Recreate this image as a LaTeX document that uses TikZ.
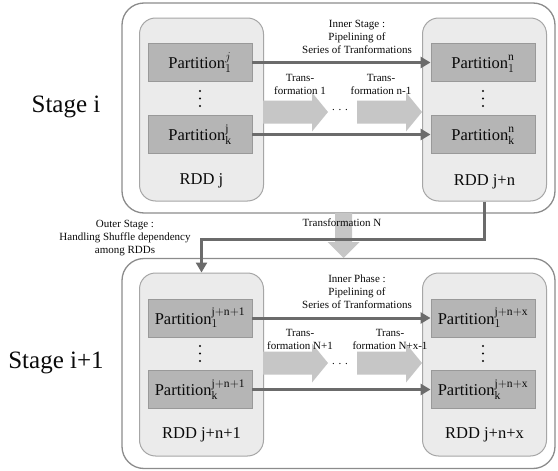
\documentclass[tikz,border=0pt]{standalone}
\usepackage{fontspec}
\setmainfont{Liberation Serif}
\usetikzlibrary{arrows.meta}
\definecolor{stageline}{HTML}{8C8C8C}
\definecolor{rddfill}{HTML}{EBEBEB}
\definecolor{rddline}{HTML}{A6A6A6}
\definecolor{partfill}{HTML}{B5B5B5}
\definecolor{partline}{HTML}{999999}
\definecolor{fatcol}{HTML}{C6C6C6}
\definecolor{pipecol}{HTML}{6B6B6B}
\definecolor{inkcol}{HTML}{0A0A0A}
\tikzset{
stagebox/.style={draw=stageline, line width=1.3pt, fill=white, rounded corners=22pt, minimum width=433pt, minimum height=210pt},
rddbox/.style={draw=rddline, line width=1pt, fill=rddfill, rounded corners=16pt, minimum width=124pt, minimum height=183pt},
partbox/.style={draw=partline, line width=0.9pt, fill=partfill, minimum width=104pt, minimum height=38pt, inner sep=0pt, text=inkcol, font=\rmfamily\fontsize{16.5}{18}\selectfont},
biglabel/.style={text=inkcol, font=\rmfamily\fontsize{16.5}{18}\selectfont},
stagelabel/.style={text=inkcol, font=\rmfamily\fontsize{25}{28}\selectfont},
note/.style={text=inkcol, align=center, inner sep=0pt, font=\rmfamily\fontsize{11}{13}\selectfont},
pipe/.style={draw=pipecol, line width=3pt, -{Triangle[length=10pt,width=11pt]}},
fatarr/.pic={\fill[fatcol] (0,-11.5) -- (49,-11.5) -- (49,-19.5) -- (65,0) -- (49,19.5) -- (49,11.5) -- (0,11.5) -- cycle;}
}
\begin{document}
\begin{tikzpicture}[x=1pt, y=-1pt]
\useasboundingbox (0,0) rectangle (558,471);
\node[stagebox] (stg0) at (338.5,108){};
\node[stagebox] (stg1) at (338.5,363.5){};
\fill[fatcol] (335,213) -- (352,213) -- (352,242) -- (359.5,242) -- (343.5,258) -- (327.5,242) -- (335,242) -- cycle;
\node[note] (trN) at (342,223){Transformation N};
\node[stagelabel] (lbl0) at (66,107){Stage i};
\node[stagelabel] (lbl1) at (56,363){Stage i+1};
\node[rddbox] (rdd0) at (201.5,109.5){};
\node[rddbox] (rdd1) at (484.5,109.5){};
\node[rddbox] (rdd2) at (201.5,364.5){};
\node[rddbox] (rdd3) at (484.5,364.5){};
\node[biglabel] (rddl0) at (201.5,181){RDD j};
\node[biglabel] (rddl1) at (484.5,182){RDD j+n};
\node[biglabel] (rddl2) at (201.5,435){RDD j+n+1};
\node[biglabel] (rddl3) at (484.5,435){RDD j+n+x};
\node[partbox] (prt0) at (200,62.5){Partition$_{1}^{j}$};
\node[partbox] (prt1) at (200,134.5){Partition$_{\mathrm{k}}^{\mathrm{j}}$};
\node[partbox] (prt2) at (483,62.5){Partition$_{1}^{\mathrm{n}\vphantom{j}}$};
\node[partbox] (prt3) at (483,134.5){Partition$_{\mathrm{k}}^{\mathrm{n}\vphantom{j}}$};
\node[partbox] (prt4) at (200,318){Partition$_{1}^{\mathrm{j+n+1}}$};
\node[partbox] (prt5) at (200,389.5){Partition$_{\mathrm{k}}^{\mathrm{j+n+1}}$};
\node[partbox] (prt6) at (483,318){Partition$_{1}^{\mathrm{j+n+x}}$};
\node[partbox] (prt7) at (483,389.5){Partition$_{\mathrm{k}}^{\mathrm{j+n+x}}$};
\foreach \x in {200,483}
  \foreach \y in {91,98.5,106,346,353.5,361}
    \fill[inkcol] (\x,\y) circle (1.1pt);
\pic (fat0) at (263,112) {fatarr};
\pic (fat1) at (357,112) {fatarr};
\pic (fat2) at (263,363) {fatarr};
\pic (fat3) at (357,363) {fatarr};
\node[note] (dots0) at (340,110){.\,\,.\,\,.};
\node[note] (dots1) at (340,364){.\,\,.\,\,.};
\node[note] (tr0) at (300,84.5){Trans-\\formation 1};
\node[note] (tr1) at (381,84.5){Trans-\\formation n-1};
\node[note] (tr2) at (300,339.5){Trans-\\formation N+1};
\node[note] (tr3) at (390,339.5){Trans-\\formation N+x-1};
\node[note] (inner0) at (357,37){Inner Stage :\\Pipelining of\\Series of Tranformations};
\node[note] (inner1) at (357,291.5){Inner Phase :\\Pipelining of\\Series of Tranformations};
\node[note] (outer) at (125,238){Outer Stage :\\Handling Shuffle dependency\\among RDDs};
\draw[pipe](prt0) -- (prt2);
\draw[pipe](prt1) -- (prt3);
\draw[pipe](prt4) -- (prt6);
\draw[pipe](prt5) -- (prt7);
\draw[pipe](rdd1.south) -- ++(0,38) -| (rdd2.north);
\end{tikzpicture}
\end{document}
